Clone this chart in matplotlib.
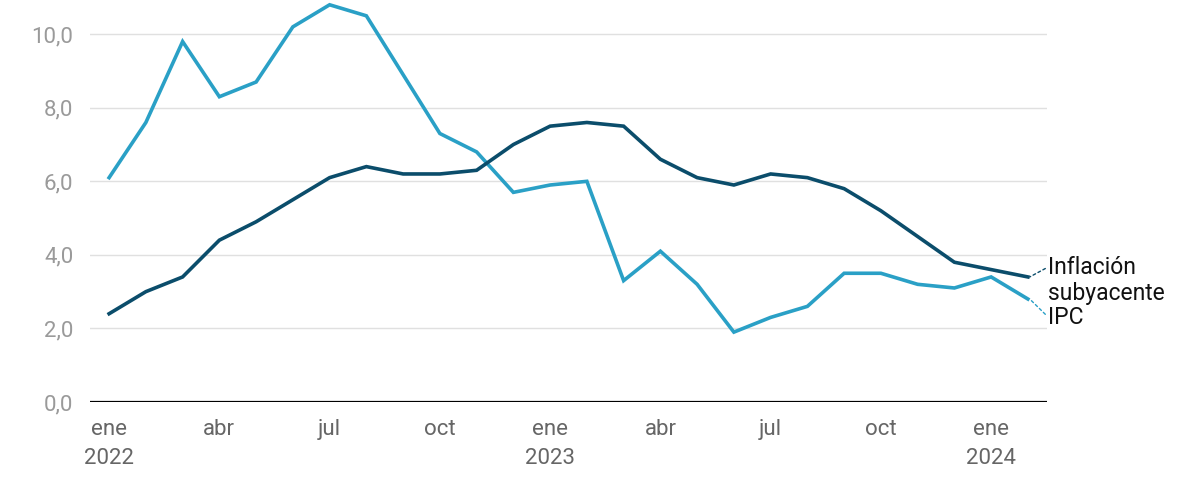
import matplotlib
matplotlib.use("Agg")
import matplotlib.pyplot as plt

months = ["ene", "feb", "mar", "abr", "may", "jun", "jul", "ago", "sep", "oct", "nov", "dic"] * 2 + ["ene", "feb"]
years = [2022] * 12 + [2023] * 12 + [2024] * 2
ipc = [6.1, 7.6, 9.8, 8.3, 8.7, 10.2, 10.8, 10.5, 8.9, 7.3, 6.8, 5.7,
       5.9, 6.0, 3.3, 4.1, 3.2, 1.9, 2.3, 2.6, 3.5, 3.5, 3.2, 3.1,
       3.4, 2.8]
subyacente = [2.4, 3.0, 3.4, 4.4, 4.9, 5.5, 6.1, 6.4, 6.2, 6.2, 6.3, 7.0,
              7.5, 7.6, 7.5, 6.6, 6.1, 5.9, 6.2, 6.1, 5.8, 5.2, 4.5, 3.8,
              3.6, 3.4]
yticks = [0, 2, 4, 6, 8, 10]

plt.rcParams['font.family'] = ['Roboto', 'DejaVu Sans']

fig = plt.figure(figsize=(12, 5), dpi=100)
ax = fig.add_axes([0.075, 0.196, 0.7975, 0.804])

x = list(range(len(ipc)))
c_ipc = "#2aa0c6"
c_sub = "#0b4d6b"
ax.plot(x, ipc, color=c_ipc, lw=2.6, solid_joinstyle='miter', zorder=3)
ax.plot(x, subyacente, color=c_sub, lw=2.6, solid_joinstyle='miter', zorder=4)

ax.set_xlim(-0.52, 25.52)
ax.set_ylim(0, 10.93)

ax.set_yticks(yticks)
ax.set_yticklabels([f"{v:.1f}".replace(".", ",") for v in yticks], color="#9a9a9a", fontsize=16)
for v in yticks[1:]:
    ax.axhline(v, color="#e0e0e0", lw=1, zorder=1)
ax.axhline(0, color="black", lw=1.6, zorder=5)

tick_pos = [i for i in x if months[i] in ("ene", "abr", "jul", "oct")]
tick_lab = [months[i] + ("\n" + str(years[i]) if months[i] == "ene" else "") for i in tick_pos]
ax.set_xticks(tick_pos)
ax.set_xticklabels(tick_lab, color="#666666", fontsize=16, linespacing=1.5, va="top")

ax.tick_params(axis="both", length=0)
ax.tick_params(axis="x", pad=12)
ax.tick_params(axis="y", pad=12)
for s in ax.spines.values():
    s.set_visible(False)

# end labels
xl = 25.55
fs = 16.5
ax.annotate("Inflación", xy=(x[-1] + 0.05, subyacente[-1]), xytext=(xl, 3.67),
            textcoords="data", fontsize=fs, color="#111111", va="center", ha="left",
            annotation_clip=False,
            arrowprops=dict(arrowstyle="-", ls=(0, (2, 2)), color=c_sub, lw=1,
                            shrinkA=0, shrinkB=0, relpos=(0, 0.5)))
ax.text(xl, 2.94, "subyacente", fontsize=fs, color="#111111", va="center", ha="left", clip_on=False)
ax.annotate("IPC", xy=(x[-1] + 0.05, ipc[-1]), xytext=(xl, 2.31),
            textcoords="data", fontsize=fs, color="#111111", va="center", ha="left",
            annotation_clip=False,
            arrowprops=dict(arrowstyle="-", ls=(0, (2, 2)), color=c_ipc, lw=1,
                            shrinkA=0, shrinkB=0, relpos=(0, 0.5)))

fig.savefig("out.png", dpi=100)
